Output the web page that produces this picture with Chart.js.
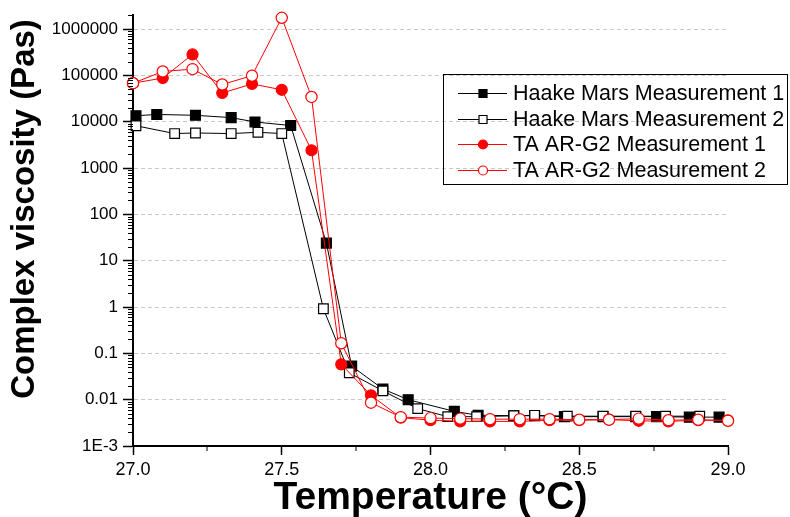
<!DOCTYPE html>
<html>
<head>
<meta charset="utf-8">
<script src="https://cdn.jsdelivr.net/npm/chart.js@4.4.1/dist/chart.umd.min.js"></script>
<style>
    html, body { margin: 0; padding: 0; background: #fff; }
    #chart { display: block; }
</style>
</head>
<body>
<canvas id="chart" width="790" height="517"></canvas>
<script>
const FONT = "'Liberation Sans', Arial, sans-serif";

// ─── Data ───
const seriesNames = [
    'Haake Mars Measurement 1',
    'Haake Mars Measurement 2',
    'TA AR-G2 Measurement 1',
    'TA AR-G2 Measurement 2',
];

const haake1Temp = [27.01, 27.08, 27.21, 27.33, 27.41, 27.53, 27.65, 27.735, 27.84, 27.925,
    28.08, 28.16, 28.28, 28.35, 28.45, 28.58, 28.69, 28.76, 28.87, 28.97];
const haake1Visc = [13500, 14400, 13800, 12300, 9900, 8300, 24, 0.053, 0.017, 0.010,
    0.0056, 0.0046, 0.0045, 0.0045, 0.0043, 0.0043, 0.0043, 0.0043, 0.0042, 0.0042];

const haake2Temp = [27.01, 27.14, 27.21, 27.33, 27.42, 27.50, 27.64, 27.727, 27.84, 27.957,
    28.058, 28.155, 28.28, 28.35, 28.46, 28.58, 28.69, 28.79, 28.905];
const haake2Visc = [8200, 5570, 5730, 5570, 5930, 5570, 0.92, 0.038, 0.0155, 0.0064,
    0.0043, 0.0043, 0.0045, 0.0046, 0.0044, 0.0044, 0.0044, 0.0044, 0.0044];

const taTemp = [27.0, 27.1, 27.2, 27.3, 27.4, 27.5, 27.6, 27.7, 27.8, 27.9,
    28.0, 28.1, 28.2, 28.3, 28.4, 28.5, 28.6, 28.7, 28.8, 28.9, 29.0];
const ta1Visc = [68000, 88000, 284000, 41800, 65700, 49000, 2430, 0.058, 0.0124, 0.0041,
    0.0036, 0.0034, 0.0034, 0.0034, 0.0036, 0.0036, 0.0037, 0.0035, 0.0034, 0.0036, 0.0036];
const ta2Visc = [68000, 122000, 137000, 63800, 99000, 1760000, 34400, 0.165, 0.0086, 0.0042,
    0.0040, 0.0039, 0.0038, 0.0038, 0.0038, 0.0037, 0.0037, 0.0039, 0.0036, 0.0037, 0.0035];

const yTickValues = [1e-3, 1e-2, 1e-1, 1, 10, 100, 1000, 1e4, 1e5, 1e6];
const yTickLabels = ['1E-3', '0.01', '0.1', '1', '10', '100', '1000', '10000', '100000', '1000000'];
const xTickValues = [27.0, 27.5, 28.0, 28.5, 29.0];
const xTickLabels = ['27.0', '27.5', '28.0', '28.5', '29.0'];
const xMinorTicks = [27.25, 27.75, 28.25, 28.75];

const pts = (xs, ys) => xs.map((x, i) => ({ x, y: ys[i] }));

// ─── Minor ticks + axis titles ───
const extras = {
    id: 'extras',
    afterDraw(chart) {
        const { ctx, chartArea } = chart;
        const xs = chart.scales.x, ys = chart.scales.y;
        ctx.save();
        ctx.strokeStyle = '#000';
        ctx.lineWidth = 1;
        ctx.beginPath();
        for (let e = -3; e <= 6; e++) {
            for (let k = 2; k <= 9; k++) {
                const v = k * Math.pow(10, e);
                if (v > ys.max) break;
                const py = Math.round(ys.getPixelForValue(v)) + 0.5;
                ctx.moveTo(chartArea.left - 5, py);
                ctx.lineTo(chartArea.left, py);
            }
        }
        xMinorTicks.forEach(v => {
            const px = Math.round(xs.getPixelForValue(v));
            ctx.moveTo(px, chartArea.bottom);
            ctx.lineTo(px, chartArea.bottom + 5);
        });
        ctx.stroke();

        ctx.fillStyle = '#000';
        ctx.textAlign = 'center';
        ctx.textBaseline = 'middle';
        ctx.font = `bold 39px ${FONT}`;
        ctx.fillText('Temperature (°C)', (chartArea.left + chartArea.right) / 2, 498);

        ctx.translate(25, 209);
        ctx.rotate(-Math.PI / 2);
        ctx.font = `bold 33px ${FONT}`;
        ctx.fillText('Complex viscosity (Pas)', 0, 0);
        ctx.restore();
    },
};

// ─── Legend box ───
const legendBox = {
    id: 'legendBox',
    afterDraw(chart) {
        const { ctx } = chart;
        ctx.save();
        ctx.strokeStyle = '#000';
        ctx.lineWidth = 1;
        ctx.strokeRect(443.5, 74.5, 344, 110);
        chart.data.datasets.forEach((ds, i) => {
            const y = Math.round(93 + i * 25.7) + 0.5;
            ctx.strokeStyle = ds.borderColor;
            ctx.lineWidth = 1;
            ctx.beginPath();
            ctx.moveTo(458, y);
            ctx.lineTo(507, y);
            ctx.stroke();

            ctx.fillStyle = ds.pointBackgroundColor;
            ctx.strokeStyle = ds.pointBorderColor;
            ctx.lineWidth = ds.pointBorderWidth;
            ctx.beginPath();
            if (ds.pointStyle === 'rect') {
                ctx.rect(479, y - 4, 8, 8);
            } else {
                ctx.arc(483, y, 4.5, 0, Math.PI * 2);
            }
            ctx.fill();
            ctx.stroke();

            ctx.fillStyle = '#000';
            ctx.font = `21.5px ${FONT}`;
            ctx.textAlign = 'left';
            ctx.textBaseline = 'middle';
            ctx.fillText(ds.label, 513, y + 1);
        });
        ctx.restore();
    },
};

function makeSet(label, data, color, fill, style, radius, order) {
    return {
        label,
        data,
        borderColor: color,
        borderWidth: 1,
        pointStyle: style,
        pointRadius: radius,
        pointBackgroundColor: fill,
        pointBorderColor: color,
        pointBorderWidth: 1.2,
        tension: 0,
        clip: false,
        order,
    };
}

new Chart(document.getElementById('chart'), {
    type: 'line',
    data: {
        datasets: [
            makeSet(seriesNames[0], pts(haake1Temp, haake1Visc), '#000000', '#000000', 'rect', 7, 4),
            makeSet(seriesNames[1], pts(haake2Temp, haake2Visc), '#000000', '#ffffff', 'rect', 6.8, 3),
            makeSet(seriesNames[2], pts(taTemp, ta1Visc), '#ff0000', '#ff0000', 'circle', 5.5, 2),
            makeSet(seriesNames[3], pts(taTemp, ta2Visc), '#ff0000', '#ffffff', 'circle', 5.6, 1),
        ],
    },
    options: {
        responsive: false,
        animation: false,
        events: [],
        layout: { padding: { top: 7, right: 62, left: 0, bottom: 0 } },
        plugins: {
            legend: { display: false },
            tooltip: { enabled: false },
        },
        scales: {
            x: {
                type: 'linear',
                min: 27,
                max: 29,
                afterBuildTicks: s => { s.ticks = xTickValues.map(v => ({ value: v })); },
                afterFit: s => { s.height = 71; },
                ticks: {
                    color: '#000',
                    font: { family: FONT, size: 18 },
                    padding: 4,
                    maxRotation: 0,
                    callback: (v) => xTickLabels[xTickValues.indexOf(v)],
                },
                grid: {
                    drawOnChartArea: false,
                    tickLength: 9,
                    tickColor: '#000',
                    tickWidth: 1.5,
                },
                border: { color: '#000', width: 2 },
            },
            y: {
                type: 'logarithmic',
                min: 1e-3,
                max: 2e6,
                afterBuildTicks: s => { s.ticks = yTickValues.map(v => ({ value: v })); },
                afterFit: s => { s.width = 133; },
                ticks: {
                    color: '#000',
                    font: { family: FONT, size: 17 },
                    padding: 5,
                    autoSkip: false,
                    callback: (v) => yTickLabels[yTickValues.indexOf(v)],
                },
                grid: {
                    color: c => (c.tick && c.tick.value === 1e-3) ? 'rgba(0,0,0,0)' : '#c8c8c8',
                    lineWidth: 1,
                    tickLength: 10,
                    tickColor: '#000',
                    tickWidth: 1.5,
                },
                border: { color: '#000', width: 2, dash: [4, 3] },
            },
        },
    },
    plugins: [extras, legendBox],
});
</script>
</body>
</html>
